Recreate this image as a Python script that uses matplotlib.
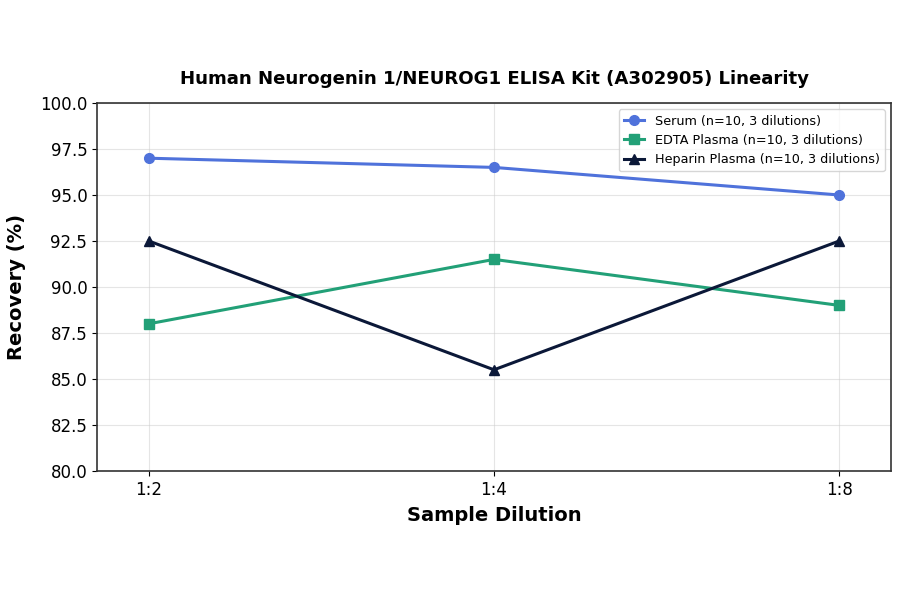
import matplotlib
matplotlib.use("Agg")
import matplotlib.pyplot as plt

dilutions = ["1:2", "1:4", "1:8"]
serum = [97.0, 96.5, 95.0]
edta = [88.0, 91.5, 89.0]
heparin = [92.5, 85.5, 92.5]
labels = ["Serum (n=10, 3 dilutions)", "EDTA Plasma (n=10, 3 dilutions)", "Heparin Plasma (n=10, 3 dilutions)"]
yticks = [80.0, 82.5, 85.0, 87.5, 90.0, 92.5, 95.0, 97.5, 100.0]

fig = plt.figure(figsize=(9, 5.94), dpi=100)
ax = fig.add_axes([97/900, 1-471/594, 794/900, 368/594])
x = list(range(len(dilutions)))
ax.plot(x, serum, color="#4F72DB", marker="o", lw=2.2, ms=7, label=labels[0])
ax.plot(x, edta, color="#22A077", marker="s", lw=2.2, ms=7, label=labels[1])
ax.plot(x, heparin, color="#0B1838", marker="^", lw=2.2, ms=7, label=labels[2])
ax.set_xticks(x)
ax.set_xticklabels(dilutions, fontsize=12)
ax.set_xlim(-0.15, 2.15)
ax.set_ylim(80, 100)
ax.set_yticks(yticks)
ax.set_yticklabels([f"{v:.1f}" for v in yticks], fontsize=12)
ax.grid(True, color="#cccccc", alpha=0.5, lw=0.8)
for s in ax.spines.values():
    s.set_color("#333333")
    s.set_linewidth(1.2)
ax.set_xlabel("Sample Dilution", fontsize=14, fontweight="bold", labelpad=5)
ax.set_ylabel("Recovery (%)", fontsize=14, fontweight="bold", labelpad=10)
ax.set_title("Human Neurogenin 1/NEUROG1 ELISA Kit (A302905) Linearity", fontsize=13.1, fontweight="bold", pad=14)
ax.legend(loc="upper right", fontsize=9.2, handlelength=1.6)
fig.savefig("out.png", dpi=100)
